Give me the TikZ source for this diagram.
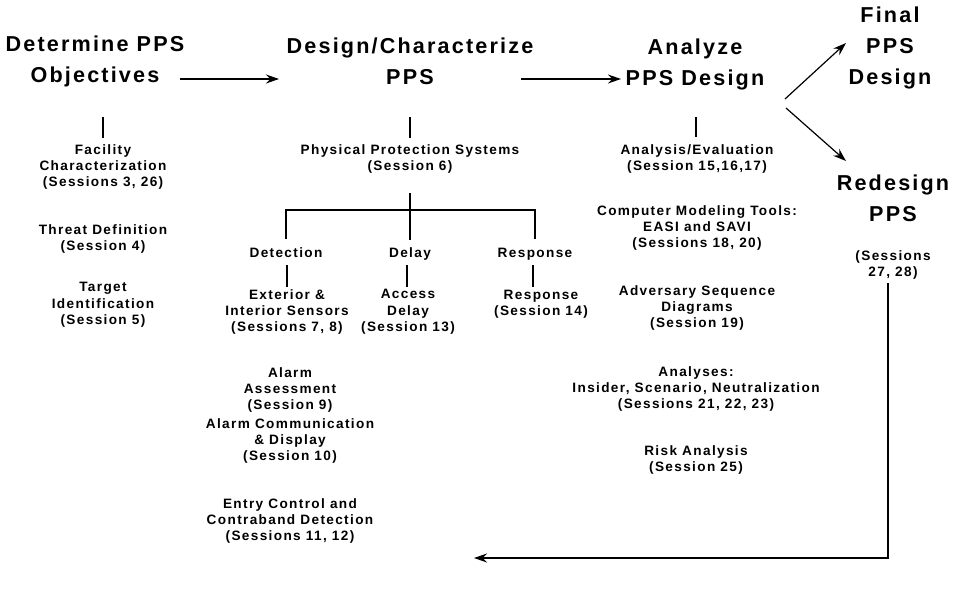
\documentclass[tikz,border=0pt]{standalone}
\usepackage{fontspec}
\setmainfont{Liberation Sans}[LetterSpace=10]
\usetikzlibrary{arrows.meta}
\begin{document}
\begin{tikzpicture}[x=1pt,y=-1pt,
  head/.style={align=center,font=\fontsize{21.6}{31}\selectfont\bfseries,inner sep=0pt},
  item/.style={align=center,font=\fontsize{13.6}{16.4}\selectfont\bfseries,inner sep=0pt},
  link/.style={line width=1.2pt},
  flow/.style={line width=1.2pt,-{Stealth[length=13pt,width=9pt]}}]
\useasboundingbox (0,0) rectangle (953,594);

% stage headings
\node[head] (obj) at (95,61.5) {Determine PPS\\Objectives};
\node[head] (des) at (410,61.5) {Design/Characterize\\PPS};
\node[head] (ana) at (695,64.5) {Analyze\\PPS Design};
\node[head] (fin) at (890,48) {Final\\PPS\\Design};
\node[head] (red) at (893,198) {Redesign\\PPS};
\node[item] (red s) at (893,265) {(Sessions\\27, 28)};

% main flow
\coordinate (a1s) at (180,79); \coordinate (a1e) at (279,79);
\coordinate (a2s) at (521,79); \coordinate (a2e) at (621,79);
\draw[flow] (a1s) -- (a1e);
\draw[flow] (a2s) -- (a2e);
\coordinate (up s) at (785,99); \coordinate (up e) at (846,43);
\coordinate (dn s) at (786,108); \coordinate (dn e) at (846,161);
\draw[flow] (up s) -- (up e);
\draw[flow] (dn s) -- (dn e);
\coordinate (ret top) at (888,283);
\coordinate (ret corner) at (888,558);
\coordinate (ret end) at (474,558);
\draw[flow] (ret top) -- (ret corner) -- (ret end);

% objectives column
\node[item] (fac) at (103,167) {Facility\\Characterization\\(Sessions 3, 26)};
\node[item] (thr) at (103,239) {Threat Definition\\(Session 4)};
\node[item] (tgt) at (103,305) {Target\\Identification\\(Session 5)};
\draw[link] (103,117) -- (103,138);

% design column
\node[item] (pps) at (410,159) {Physical Protection Systems\\(Session 6)};
\draw[link] (410,117) -- (410,138);
\node[item,anchor=base] (det) at (286,257) {Detection};
\node[item,anchor=base] (del) at (410,257) {Delay};
\node[item,anchor=base] (rsp) at (535,257) {Response};
\coordinate (hub) at (410,210);
\draw[link] (410,193) -- (410,240);
\draw[link] (286,239) -- (286,210) -- (535,210) -- (535,239);
\node[item] (ext) at (287,312) {Exterior \&\\Interior Sensors\\(Sessions 7, 8)};
\node[item] (acc) at (408,312) {Access\\Delay\\(Session 13)};
\node[item] (rsp s) at (541,304) {Response\\(Session 14)};
\draw[link] (287,265) -- (287,287);
\draw[link] (407,265) -- (407,287);
\draw[link] (533,265) -- (533,287);
\node[item] (alm) at (290,390) {Alarm\\Assessment\\(Session 9)};
\node[item] (com) at (290,441) {Alarm Communication\\\& Display\\(Session 10)};
\node[item] (ent) at (290,521) {Entry Control and\\Contraband Detection\\(Sessions 11, 12)};

% analysis column
\draw[link] (696,117) -- (696,137);
\node[item] (evl) at (697,159) {Analysis/Evaluation\\(Session 15,16,17)};
\node[item] (cmt) at (697,228) {Computer Modeling Tools:\\EASI and SAVI\\(Sessions 18, 20)};
\node[item] (asd) at (697,308) {Adversary Sequence\\Diagrams\\(Session 19)};
\node[item] (ins) at (696,389) {Analyses:\\Insider, Scenario, Neutralization\\(Sessions 21, 22, 23)};
\node[item] (rsk) at (696,460) {Risk Analysis\\(Session 25)};
\end{tikzpicture}
\end{document}
